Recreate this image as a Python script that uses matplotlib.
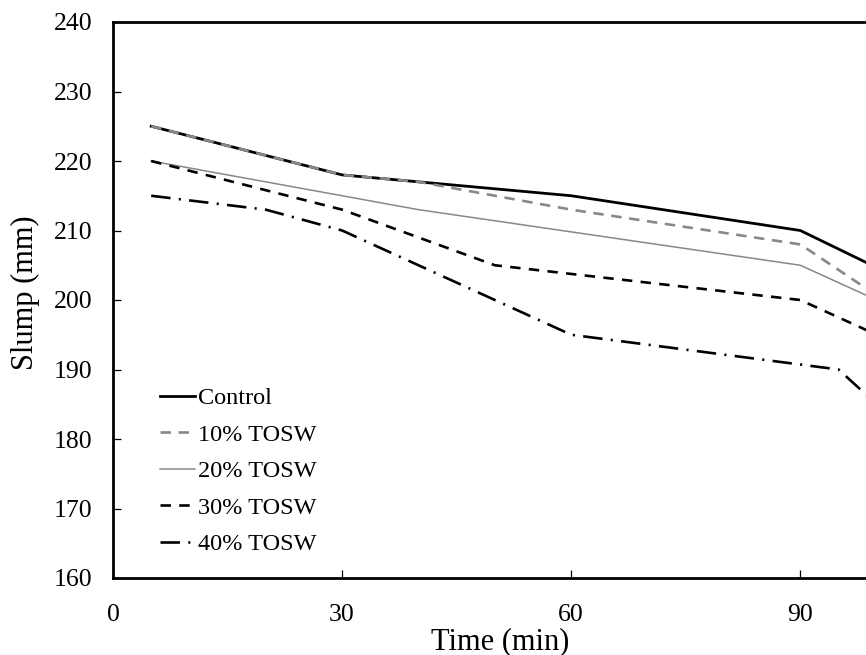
import matplotlib
matplotlib.use("Agg")
import matplotlib.pyplot as plt

plt.rcParams['font.family'] = ['Liberation Serif', 'DejaVu Serif']
plt.rcParams['lines.scale_dashes'] = False

# Data (time in min, slump in mm)
control_t = [5, 30, 60, 90, 120]
control = [225, 218, 215, 210, 194]
tosw10_t = [5, 30, 40, 60, 90, 120]
tosw10 = [225, 218, 217, 213, 208, 186]
tosw20_t = [5, 40, 90, 120]
tosw20 = [220, 213, 205, 190]
tosw30_t = [5, 30, 50, 90, 120]
tosw30 = [220, 213, 205, 200, 185]
tosw40_t = [5, 20, 30, 60, 95, 120]
tosw40 = [215, 213, 210, 195, 190, 165]

labels = ['Control', '10% TOSW', '20% TOSW', '30% TOSW', '40% TOSW']
xticks = [0, 30, 60, 90]
yticks = [160, 170, 180, 190, 200, 210, 220, 230, 240]

W, H = 866, 655
fig = plt.figure(figsize=(W / 100, H / 100), dpi=100)
left, right, top, bottom = 113, 866, 22, 578
ax = fig.add_axes([left / W, 1 - bottom / H, (right - left) / W, (bottom - top) / H])

ax.plot(control_t, control, color='black', lw=2.0, label=labels[0])
ax.plot(tosw10_t, tosw10, color='#888888', lw=1.9, dashes=(7.5, 5.5), label=labels[1])
ax.plot(tosw20_t, tosw20, color='#888888', lw=1.1, label=labels[2])
ax.plot(tosw30_t, tosw30, color='black', lw=1.9, dashes=(7.5, 6), label=labels[3])
ax.plot(tosw40_t, tosw40, color='black', lw=1.9, dashes=(14, 6, 1.5, 6), label=labels[4])

ax.set_xlim(0, 98.6)
ax.set_ylim(160, 240)
ax.set_xticks(xticks)
ax.set_yticks(yticks)
ax.tick_params(direction='in', length=6, width=0.9, labelsize=18.5)
ax.tick_params(axis='y', pad=15)
ax.tick_params(axis='x', pad=19)
for s in ['left', 'bottom', 'top']:
    ax.spines[s].set_linewidth(2.0)
ax.spines['right'].set_visible(False)

fig.text(25 / W, 1 - 293 / H, 'Slump (mm)', rotation=90, ha='center', va='center', fontsize=22)
fig.text(500 / W, 1 - 642 / H, 'Time (min)', ha='center', va='center', fontsize=22)

leg = ax.legend(loc='upper left', bbox_to_anchor=((160 - left) / (right - left), 1 - (387 - top) / (bottom - top)),
                frameon=False, fontsize=17.5, handlelength=1.45, handletextpad=0.1,
                labelspacing=0.6, borderpad=0, borderaxespad=0)

fig.savefig('out.png', dpi=100)
